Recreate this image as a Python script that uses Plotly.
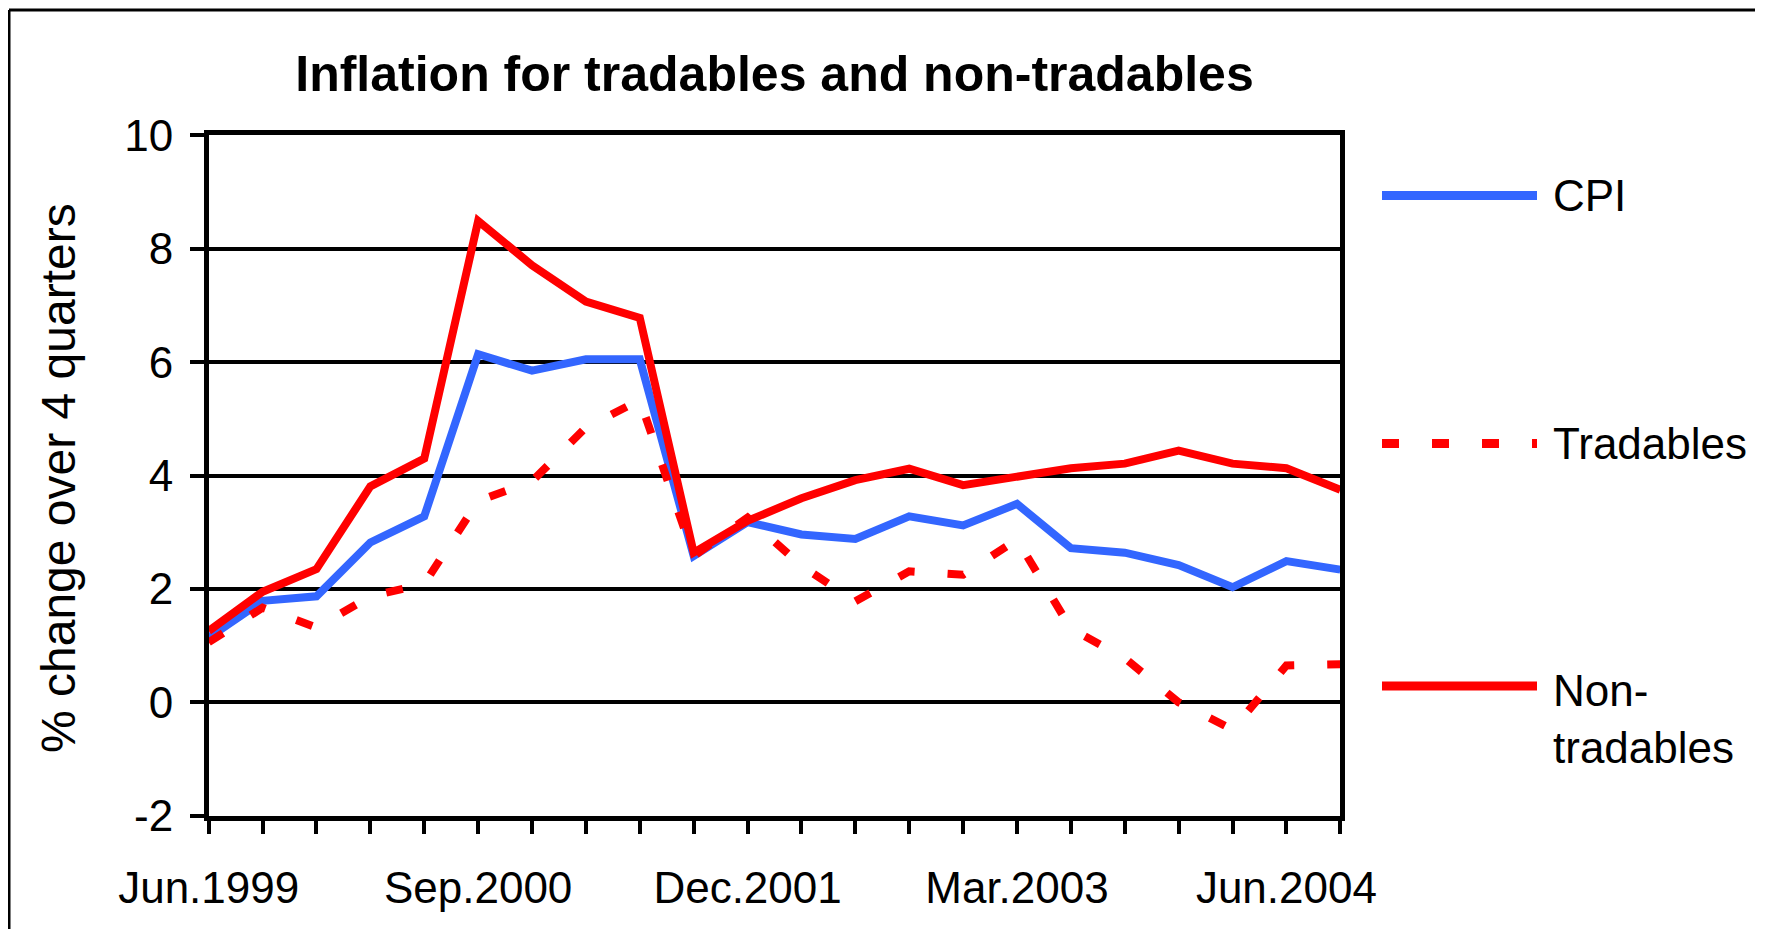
import plotly.graph_objects as go

# ---- data ----
quarters = ["Jun.1999", "Sep.1999", "Dec.1999", "Mar.2000", "Jun.2000", "Sep.2000",
            "Dec.2000", "Mar.2001", "Jun.2001", "Sep.2001", "Dec.2001", "Mar.2002",
            "Jun.2002", "Sep.2002", "Dec.2002", "Mar.2003", "Jun.2003", "Sep.2003",
            "Dec.2003", "Mar.2004", "Jun.2004", "Sep.2004"]
labelled_quarters = ["Jun.1999", "Sep.2000", "Dec.2001", "Mar.2003", "Jun.2004"]

cpi = [1.14, 1.79, 1.87, 2.82, 3.28, 6.14, 5.85, 6.05, 6.05, 2.58, 3.18,
       2.96, 2.88, 3.28, 3.12, 3.50, 2.72, 2.64, 2.42, 2.03, 2.49, 2.34]
tradables = [1.06, 1.67, 1.32, 1.87, 2.09, 3.55, 3.90, 4.85, 5.33, 2.58, 3.26,
             2.41, 1.78, 2.31, 2.25, 2.87, 1.30, 0.78, 0.00, -0.48, 0.65, 0.67]
non_tradables = [1.26, 1.95, 2.35, 3.81, 4.30, 8.49, 7.71, 7.07, 6.78, 2.64, 3.20,
                 3.60, 3.92, 4.12, 3.83, 3.99, 4.13, 4.21, 4.44, 4.21, 4.13, 3.75]

y_ticks = [-2, 0, 2, 4, 6, 8, 10]
y_tick_text = ["-2", "0", "2", "4", "6", "8", "10"]

series_names = ["CPI", "Tradables", "Non-tradables"]
legend_text = ["CPI", "Tradables", "Non-<br>tradables"]

# ---- style ----
OFF = 8                      # default page margin around the plot div
W, H = 1747, 921             # kept inside the window to avoid scrollbars
FONT = "Liberation Sans, Arial, sans-serif"
BLUE = "#3366FF"
RED = "#FF0000"
DASH = "17px,33px"
colors = [BLUE, RED, RED]
dashes = ["solid", DASH, "solid"]

plot_left, plot_right = 208.7, 1340.3
plot_top, plot_bottom = 135.4, 815.7


def px(x):
    return (x - OFF) / W


def py(y):
    return 1 - (y - OFF) / H


fig = go.Figure()
for name, vals, col, dsh in zip(series_names, [cpi, tradables, non_tradables], colors, dashes):
    fig.add_trace(go.Scatter(x=quarters, y=vals, mode="lines", name=name,
                             line=dict(color=col, width=8, dash=dsh),
                             showlegend=False))

fig.update_layout(
    width=W, height=H,
    margin=dict(l=0, r=0, t=0, b=0),
    paper_bgcolor="white", plot_bgcolor="white",
    font=dict(family=FONT, color="black", size=44),
    title=dict(text="<b>Inflation for tradables and non-tradables</b>",
               x=px((plot_left + plot_right) / 2), xanchor="center", xref="paper",
               y=py(73), yanchor="middle", yref="container",
               font=dict(family=FONT, size=50, color="black")),
    xaxis=dict(domain=[px(plot_left), px(plot_right)], type="category",
               range=[0, len(quarters) - 1], categoryorder="array", categoryarray=quarters,
               tickmode="array", tickvals=quarters,
               ticktext=[q if q in labelled_quarters else "" for q in quarters],
               ticks="outside", ticklen=14, tickwidth=3.5, tickcolor="black",
               showline=True, linewidth=4.5, linecolor="black", mirror=True,
               showgrid=False, zeroline=False, automargin=False,
               ticklabelstandoff=16,
               tickfont=dict(family=FONT, size=44, color="black")),
    yaxis=dict(domain=[py(plot_bottom), py(plot_top)], range=[-2, 10],
               tickmode="array", tickvals=y_ticks, ticktext=y_tick_text,
               ticks="outside", ticklen=14, tickwidth=3.5, tickcolor="black",
               showline=True, linewidth=4.5, linecolor="black", mirror=True,
               showgrid=True, gridcolor="black", gridwidth=4,
               zeroline=False, automargin=False, ticklabelstandoff=8,
               tickfont=dict(family=FONT, size=44, color="black")),
)

# y-axis title
fig.add_annotation(text="% change over 4 quarters", textangle=-90,
                   x=px(58), y=py(478), xref="paper", yref="paper",
                   xanchor="center", yanchor="middle", showarrow=False,
                   font=dict(family=FONT, size=48, color="black"))

# outer frame: only its top and left edges are inside the picture
fig.add_shape(type="line", xref="paper", yref="paper",
              x0=px(9), x1=1, y0=py(10), y1=py(10),
              line=dict(color="black", width=3), layer="below")
fig.add_shape(type="line", xref="paper", yref="paper",
              x0=px(9), x1=px(9), y0=py(10), y1=0,
              line=dict(color="black", width=3), layer="below")

# legend drawn on the right side
legend_line_y = [195.5, 443.5, 686]
legend_text_y = [195.5, 443.5, 719]
for txt, col, dsh, ly, ty in zip(legend_text, colors, dashes, legend_line_y, legend_text_y):
    fig.add_shape(type="line", xref="paper", yref="paper",
                  x0=px(1382), x1=px(1537), y0=py(ly), y1=py(ly),
                  line=dict(color=col, width=9, dash=dsh))
    fig.add_annotation(text=txt, x=px(1551), y=py(ty), xref="paper", yref="paper",
                       xanchor="left", yanchor="middle", align="left", showarrow=False,
                       font=dict(family=FONT, size=44, color="black"))

fig.write_html("out.html")
